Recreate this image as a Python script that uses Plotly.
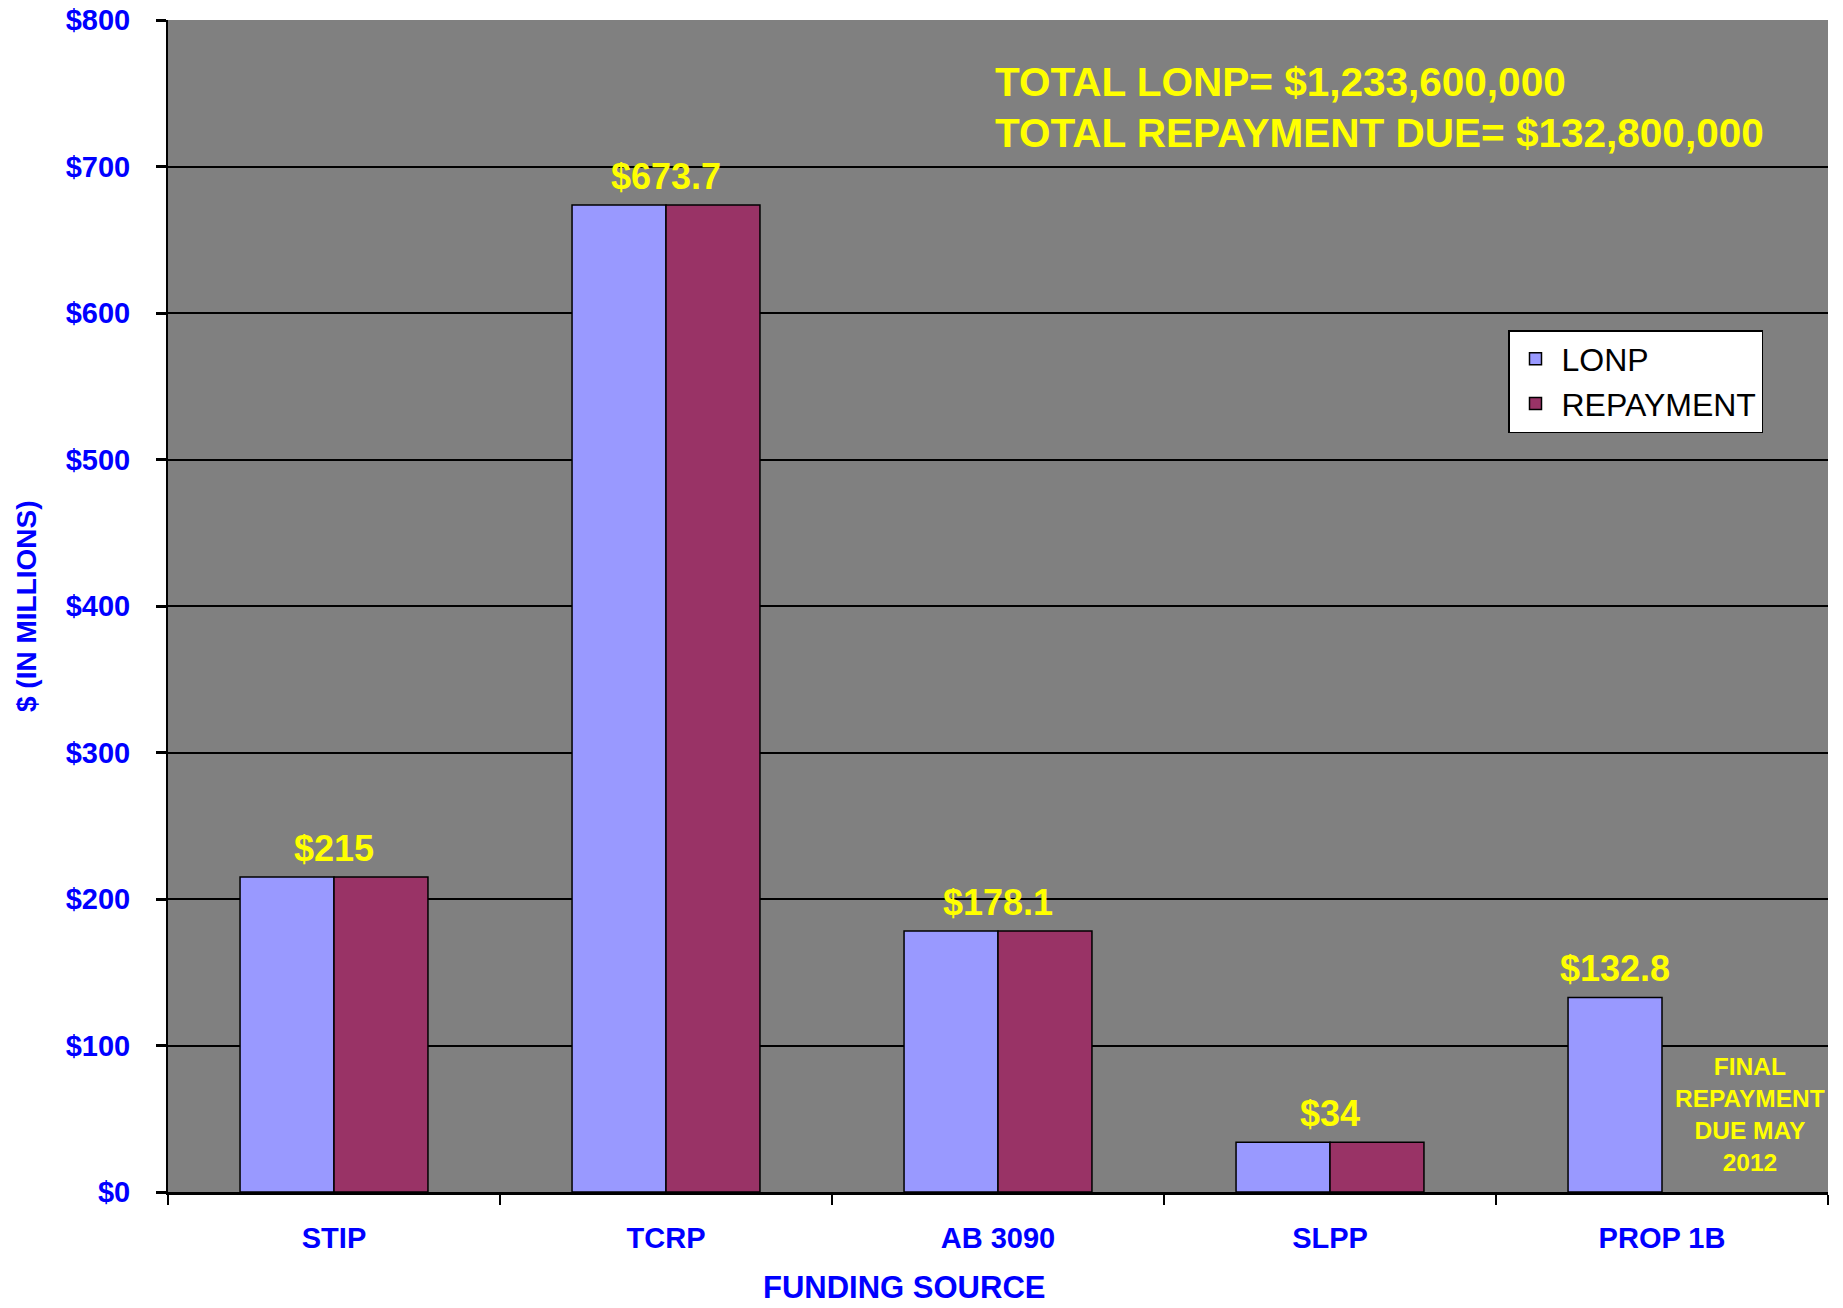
import plotly.graph_objects as go

categories = ["STIP", "TCRP", "AB 3090", "SLPP", "PROP 1B"]
lonp = [215, 673.7, 178.1, 34, 132.8]
repayment = [215, 673.7, 178.1, 34, None]
value_labels = ["$215", "$673.7", "$178.1", "$34", "$132.8"]
label_xshift = [0, 0, 0, 0, -47]
y_ticks = [0, 100, 200, 300, 400, 500, 600, 700, 800]
y_tick_text = ["$0", "$100", "$200", "$300", "$400", "$500", "$600", "$700", "$800"]

FONT = "Liberation Sans, Arial"
BLUE = "#0000FF"
YELLOW = "#FFFF00"

fig = go.Figure()
fig.add_trace(go.Bar(x=categories, y=lonp, name="LONP",
                     marker=dict(color="#9999FF", line=dict(color="black", width=1.5))))
fig.add_trace(go.Bar(x=categories, y=repayment, name="REPAYMENT",
                     marker=dict(color="#993366", line=dict(color="black", width=1.5))))

annotations = []
for c, v, t, dx in zip(categories, lonp, value_labels, label_xshift):
    annotations.append(dict(x=c, y=v, xref="x", yref="y", text="<b>%s</b>" % t,
                            showarrow=False, yanchor="bottom", yshift=6, xshift=dx,
                            font=dict(family=FONT, size=36, color=YELLOW)))

annotations.append(dict(x="PROP 1B", y=0, xref="x", yref="y", xshift=88, yshift=14,
                        text="<b>FINAL<br>REPAYMENT<br>DUE MAY<br>2012</b>",
                        showarrow=False, yanchor="bottom", align="center",
                        font=dict(family=FONT, size=24.5, color=YELLOW)))

annotations.append(dict(x=(993 - 168) / 1660, y=(1192 - 82) / 1172, xref="paper", yref="paper",
                        text="<b>TOTAL LONP= $1,233,600,000</b>", showarrow=False,
                        xanchor="left", yanchor="middle",
                        font=dict(family=FONT, size=40.5, color=YELLOW)))
annotations.append(dict(x=(993 - 168) / 1660, y=(1192 - 133) / 1172, xref="paper", yref="paper",
                        text="<b>TOTAL REPAYMENT DUE= $132,800,000</b>", showarrow=False,
                        xanchor="left", yanchor="middle",
                        font=dict(family=FONT, size=40.5, color=YELLOW)))

annotations.append(dict(x=(904 - 168) / 1660, y=(1192 - 1288) / 1172, xref="paper", yref="paper",
                        text="<b>FUNDING SOURCE</b>", showarrow=False,
                        xanchor="center", yanchor="middle", borderpad=0,
                        font=dict(family=FONT, size=31, color=BLUE)))
annotations.append(dict(x=(26 - 168) / 1660, y=0.5, xref="paper", yref="paper",
                        text="<b>$ (IN MILLIONS)</b>", showarrow=False, textangle=-90,
                        xanchor="center", yanchor="middle",
                        font=dict(family=FONT, size=28, color=BLUE)))

fig.update_layout(
    width=1843, height=1308,
    margin=dict(l=168, r=15, t=20, b=116, autoexpand=False),
    paper_bgcolor="white", plot_bgcolor="#808080",
    barmode="group", bargap=0.434, bargroupgap=0,
    showlegend=True,
    legend=dict(x=(1508 - 168) / 1660, y=(1192 - 330) / 1172, xanchor="left", yanchor="top",
                bgcolor="white", bordercolor="black", borderwidth=1.5,
                itemwidth=42,
                font=dict(family=FONT, size=32, color="black"),
                traceorder="normal"),
    annotations=annotations,
)
fig.update_xaxes(showline=True, linecolor="black", linewidth=3, automargin=False,
                 ticks="outside", tickson="boundaries", ticklen=10, tickwidth=2, tickcolor="black",
                 ticklabelstandoff=18,
                 tickfont=dict(family=FONT, size=29, color=BLUE, weight="bold"), showgrid=False)
fig.update_yaxes(range=[0, 800], tickvals=y_ticks, ticktext=y_tick_text, automargin=False,
                 ticklabeloverflow="allow",
                 showline=True, linecolor="black", linewidth=2,
                 ticks="outside", ticklen=10, tickwidth=3, tickcolor="black",
                 ticklabelstandoff=20,
                 tickfont=dict(family=FONT, size=29, color=BLUE, weight="bold"),
                 showgrid=True, gridcolor="black", gridwidth=1.5, zeroline=False)

fig.write_html("out.html", config={"displayModeBar": False},
               post_script="document.body.style.margin='0';")
